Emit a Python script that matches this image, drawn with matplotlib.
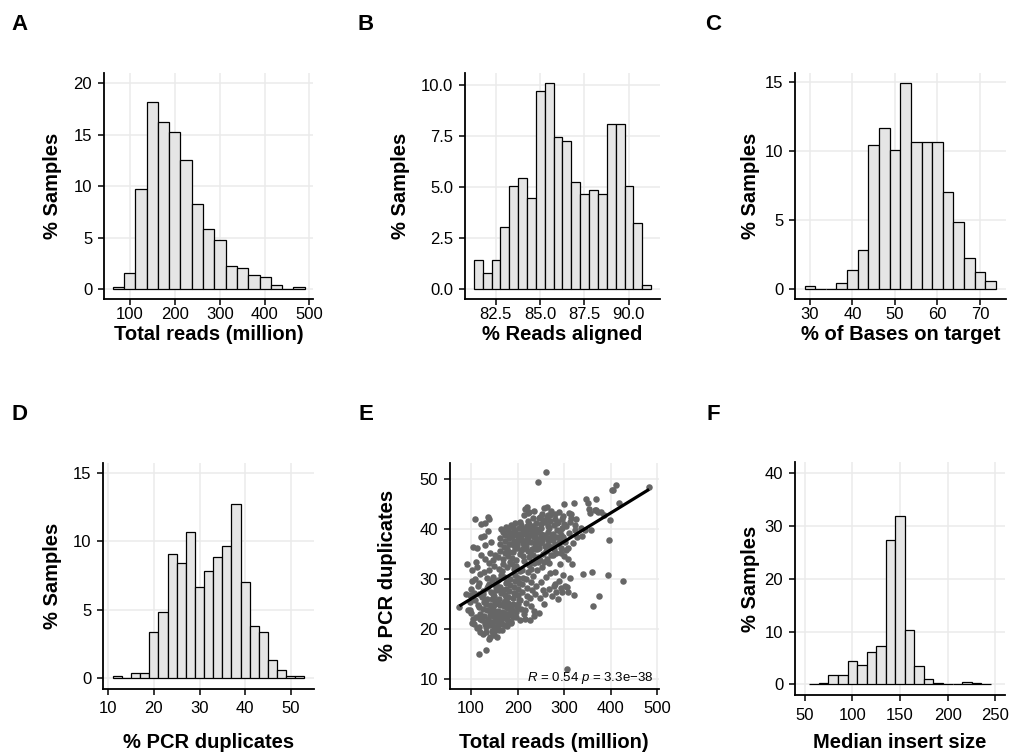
import numpy as np
import matplotlib
matplotlib.use('Agg')
import matplotlib.pyplot as plt

plt.rcParams['font.family'] = ['Liberation Sans', 'DejaVu Sans']
plt.rcParams['mathtext.fontset'] = 'custom'
plt.rcParams['mathtext.it'] = 'Liberation Sans:italic'
plt.rcParams['mathtext.rm'] = 'Liberation Sans'

# ---------------- data ----------------
# A: Total reads (million)
A_bin_start, A_bin_width = 61.3, 25.2
A_heights = [0.2, 1.6, 9.7, 18.15, 16.2, 15.3, 12.5, 8.25, 5.8, 4.8, 2.2, 2.0, 1.4, 1.2, 0.4, 0.0, 0.2]
A_xticks = [100, 200, 300, 400, 500]
A_yticks = [0, 5, 10, 15, 20]

# B: % Reads aligned
B_bin_start, B_bin_width = 81.26, 0.5
B_heights = [1.42, 0.81, 1.42, 3.03, 5.05, 5.44, 4.45, 9.67, 10.07, 7.46, 7.26, 5.24,
             4.64, 4.84, 4.64, 8.06, 8.06, 5.03, 3.22, 0.2]
B_xticks = [82.5, 85.0, 87.5, 90.0]
B_xticklabels = ['82.5', '85.0', '87.5', '90.0']
B_yticks = [0.0, 2.5, 5.0, 7.5, 10.0]
B_yticklabels = ['0.0', '2.5', '5.0', '7.5', '10.0']

# C: % of Bases on target
C_bin_start, C_bin_width = 28.75, 2.5
C_heights = [0.2, 0.0, 0.0, 0.4, 1.4, 2.83, 10.48, 11.69, 10.1, 14.93, 10.7, 10.7, 10.7,
             7.05, 4.83, 2.22, 1.21, 0.6]
C_xticks = [30, 40, 50, 60, 70]
C_yticks = [0, 5, 10, 15]

# D: % PCR duplicates
D_bin_start, D_bin_width = 11.0, 2.0
D_heights = [0.2, 0.0, 0.4, 0.4, 3.42, 4.82, 9.06, 8.46, 10.71, 6.66, 7.85, 8.87, 9.67,
             12.72, 7.05, 3.83, 3.42, 1.38, 0.6, 0.2, 0.2]
D_xticks = [10, 20, 30, 40, 50]
D_yticks = [0, 5, 10, 15]

# F: Median insert size
F_bin_start, F_bin_width = 55.0, 10.0
F_heights = [0.0, 0.2, 1.77, 1.77, 4.42, 3.6, 6.06, 7.26, 27.4, 31.86, 10.28, 3.4, 0.95,
             0.2, 0.0, 0.0, 0.44, 0.2, 0.0]
F_xticks = [50, 100, 150, 200, 250]
F_yticks = [0, 10, 20, 30, 40]

# E: Total reads (million) vs % PCR duplicates
E_reads = [
    97, 99, 101, 103, 104, 102, 100, 98,
    106, 108, 110, 112, 114, 107, 109, 111, 113, 115, 108, 112,
    116, 118, 120, 122, 124, 117, 119, 121, 123, 125, 118, 122, 120,
    126, 128, 130, 132, 134, 127, 129, 131, 133, 135, 126, 130, 134, 128, 132,
    136, 138, 140, 142, 144, 137, 139, 141, 143, 145, 136, 140, 144, 138, 142, 137,
    146, 148, 150, 152, 154, 147, 149, 151, 153, 155, 146, 150, 154, 148, 152, 147, 153,
    156, 158, 160, 162, 164, 157, 159, 161, 163, 165, 156, 160, 164, 158, 162, 157, 163, 159,
    166, 168, 170, 172, 174, 167, 169, 171, 173, 175, 166, 170, 174, 168, 172, 167, 173, 169, 171,
    176, 178, 180, 182, 184, 177, 179, 181, 183, 185, 176, 180, 184, 178, 182, 177, 183, 179, 181, 185,
    186, 188, 190, 192, 194, 187, 189, 191, 193, 195, 186, 190, 194, 188, 192, 187, 193, 189, 191, 195,
    196, 198, 200, 202, 204, 197, 199, 201, 203, 205, 196, 200, 204, 198, 202, 197, 203, 199, 201,
    206, 208, 210, 212, 214, 207, 209, 211, 213, 215, 206, 210, 214, 208, 212, 207, 213, 209, 211,
    216, 218, 220, 222, 224, 217, 219, 221, 223, 225, 216, 220, 224, 218, 222, 217, 223, 219, 221,
    226, 228, 230, 232, 234, 227, 229, 231, 233, 235, 226, 230, 234, 228, 232, 229,
    236, 238, 240, 242, 244, 237, 239, 241, 243, 245, 236, 240, 244, 238, 242,
    246, 248, 250, 252, 254, 247, 249, 251, 253, 255, 246, 250, 254, 248,
    256, 258, 260, 262, 264, 257, 259, 261, 263, 265, 256, 260, 264,
    266, 268, 270, 272, 274, 267, 269, 271, 273, 275, 268, 272,
    276, 278, 280, 282, 284, 277, 279, 281, 283, 285, 280,
    286, 288, 290, 292, 294, 287, 289, 291, 293, 295,
    296, 298, 300, 302, 304, 297, 299, 301, 306,
    306, 308, 310, 312, 314, 307, 309, 313, 318, 320, 322, 325, 316, 328, 320, 324, 311, 315, 304,
    335, 338, 340, 344, 347, 350, 352, 356, 357, 360, 362, 365, 368, 368, 372, 374, 379, 386,
    394, 397, 399, 403, 404, 411, 418, 426, 482,
    75, 94, 97, 88, 92, 141, 150, 101, 139, 221.6, 257, 264,
    205, 210, 215, 220, 225, 230, 235, 240, 245, 250, 255, 260, 265, 270, 275, 280, 285, 290,
    295, 300, 185, 190, 195, 200, 232, 248, 262, 278, 288, 298, 212, 222, 242, 252, 268, 228,
    238, 258, 272, 292,
    120, 125, 130, 135, 140, 145, 150, 155, 160, 165, 170, 175, 180, 185, 190, 195, 200, 133,
    143, 153, 163, 173, 183, 138, 148, 158, 168, 178, 128, 118,
]
E_dups = [
    25.5, 28.0, 31.8, 22.1, 36.5, 29.6, 23.3, 26.8,
    21.0, 42.0, 33.5, 36.2, 24.8, 27.2, 30.1, 22.5, 20.2, 28.6, 25.9, 32.4,
    15.1, 20.5, 23.0, 41.0, 26.4, 29.3, 31.0, 34.8, 21.8, 27.6, 24.5, 38.5, 19.4,
    19.0, 22.6, 41.2, 25.0, 28.3, 31.5, 34.0, 15.9, 20.4, 23.9, 27.0, 36.8, 30.2, 38.6, 21.5,
    42.5, 18.1, 20.9, 23.4, 26.1, 28.7, 31.9, 35.2, 37.5, 19.6, 22.0, 24.8, 29.9, 33.3, 27.5, 39.6,
    19.2, 21.4, 23.6, 25.7, 27.9, 30.4, 32.6, 34.9, 22.0, 20.3, 22.7, 26.6, 29.1, 33.8, 25.0, 24.4, 28.4,
    18.5, 20.8, 22.5, 24.9, 27.3, 29.8, 32.1, 35.6, 38.3, 40.1, 21.6, 26.0, 30.9, 34.4, 37.0, 23.7, 28.5, 19.8,
    19.9, 22.3, 24.6, 26.8, 29.2, 31.7, 34.1, 36.5, 38.8, 40.4, 21.1, 25.5, 28.0, 33.0, 37.6, 23.4, 35.3, 39.5, 30.5,
    20.6, 23.0, 25.3, 27.6, 30.0, 32.4, 34.7, 37.1, 39.3, 40.9, 22.0, 26.4, 28.9, 36.0, 38.2, 24.2, 33.5, 39.9, 35.4, 21.2,
    21.5, 23.8, 26.2, 28.4, 30.8, 33.1, 35.5, 37.7, 39.8, 41.2, 22.9, 25.1, 29.6, 34.2, 36.9, 38.6, 32.0, 40.5, 27.3, 36.3,
    22.4, 24.5, 26.9, 29.2, 31.6, 33.9, 36.2, 38.4, 40.2, 41.5, 23.5, 28.1, 35.0, 37.3, 39.1, 32.7, 25.8, 36.8, 30.3,
    21.8, 24.1, 27.4, 30.2, 33.6, 35.9, 37.9, 39.7, 42.8, 44.0, 25.9, 29.0, 36.6, 38.7, 34.6, 40.8, 23.0, 31.9, 37.2,
    22.1, 25.2, 28.3, 31.4, 34.4, 36.4, 38.1, 39.9, 41.6, 43.5, 23.9, 26.7, 32.8, 37.0, 35.7, 30.0, 38.9, 44.4, 40.6,
    21.9, 24.7, 27.8, 30.6, 33.2, 35.4, 37.4, 39.2, 40.7, 43.7, 26.2, 36.0, 38.5, 29.4, 34.8, 32.1,
    22.6, 36.0, 28.7, 31.8, 34.5, 36.7, 38.3, 40.0, 49.4, 42.3, 23.7, 37.5, 33.4, 27.0, 39.6,
    23.3, 26.3, 29.5, 32.5, 35.1, 37.2, 39.0, 41.0, 43.0, 38.6, 36.3, 38.2, 27.9, 33.9,
    33.5, 27.1, 30.4, 34.0, 36.8, 38.9, 41.4, 51.4, 44.4, 37.9, 25.0, 35.6, 39.5,
    36.6, 28.0, 31.2, 34.9, 37.8, 40.3, 42.9, 36.4, 26.6, 39.1, 33.2, 43.6,
    34.8, 28.6, 31.5, 35.3, 38.4, 40.9, 43.1, 37.0, 27.4, 39.8, 29.0,
    26.0, 29.7, 33.0, 36.2, 38.9, 41.5, 43.4, 37.7, 28.2, 40.2,
    27.4, 30.8, 34.7, 37.5, 40.6, 42.6, 45.0, 28.6, 12.0,
    28.4, 36.3, 39.2, 41.4, 43.1, 27.5, 34.1, 30.3, 37.3, 45.2, 40.8, 42.1, 33.0, 38.4, 26.9, 39.9, 43.2, 42.2, 35.8,
    40.3, 38.6, 31.0, 39.8, 46.0, 45.2, 44.0, 43.2, 39.8, 31.5, 24.7, 43.8, 46.0, 43.8, 43.4, 26.7, 43.5, 42.8,
    30.8, 37.8, 41.8, 47.8, 47.9, 48.9, 45.2, 29.6, 48.4,
    24.4, 23.8, 23.8, 27.0, 33.0, 18.5, 18.8, 21.2, 42.0, 43.2, 44.2, 42.8,
    38.0, 40.3, 39.0, 37.5, 41.0, 38.8, 40.1, 41.3, 39.4, 40.2, 41.8, 38.4, 40.7, 41.6, 38.0, 42.0, 41.2, 39.6,
    42.0, 41.1, 37.0, 38.9, 39.5, 37.8, 42.2, 42.4, 42.4, 36.0, 37.2, 38.5, 36.0, 38.5, 36.0, 37.6, 38.0, 40.0,
    39.0, 36.7, 38.4, 35.2,
    22.0, 24.0, 21.0, 26.0, 22.8, 24.0, 20.5, 23.0, 25.0, 21.8, 23.2, 26.0, 21.7, 24.5, 22.4, 27.0, 25.0, 19.5,
    21.5, 19.8, 22.9, 20.9, 23.2, 29.0, 27.0, 28.0, 27.8, 29.5, 25.5, 27.0,
]
E_xticks = [100, 200, 300, 400, 500]
E_yticks = [10, 20, 30, 40, 50]
E_stat_label = r'$R$ = 0.54 $p$ = 3.3e−38'

# ---------------- layout ----------------
W, H = 1022, 756
fig = plt.figure(figsize=(W / 100, H / 100), dpi=100)

BAR_FILL = '#E5E5E5'
GRID = '#EBEBEB'


def make_ax(l, t, r, b):
    return fig.add_axes([l / W, 1 - b / H, (r - l) / W, (b - t) / H])


def style(ax, box, xlim, ylim, xticks, yticks, xlabel, ylabel, xlab_y, ylab_x,
          xpad, xticklabels=None, yticklabels=None):
    l, t, r, b = box
    ax.set_xlim(*xlim)
    ax.set_ylim(*ylim)
    ax.set_xticks(xticks)
    ax.set_yticks(yticks)
    if xticklabels is not None:
        ax.set_xticklabels(xticklabels)
    if yticklabels is not None:
        ax.set_yticklabels(yticklabels)
    for s in ['top', 'right']:
        ax.spines[s].set_visible(False)
    for s in ['left', 'bottom']:
        ax.spines[s].set_linewidth(1.3)
        ax.spines[s].set_color('black')
    ax.set_axisbelow(True)
    ax.grid(True, color=GRID, linewidth=1.1)
    ax.tick_params(axis='both', direction='out', length=4, width=1.1, color='black',
                   labelsize=12, labelcolor='black')
    ax.tick_params(axis='x', pad=xpad)
    ax.tick_params(axis='y', pad=4.5)
    ax.set_xlabel(xlabel, fontsize=14.5, fontweight='bold')
    ax.set_ylabel(ylabel, fontsize=14.5, fontweight='bold')
    ax.xaxis.label.set_va('center')
    ax.yaxis.label.set_va('center')
    ax.xaxis.set_label_coords(0.5, (b - xlab_y) / (b - t))
    ax.yaxis.set_label_coords((ylab_x - l) / (r - l), 0.5)


def hist(ax, start, width, heights):
    lefts = start + width * np.arange(len(heights))
    ax.bar(lefts, heights, width=width, align='edge', color=BAR_FILL,
           edgecolor='black', linewidth=0.9, zorder=2)


ROW1_XLAB, ROW1_PAD = 334, 1.5
ROW2_XLAB, ROW2_PAD = 742, 5

# A
boxA = (104, 73, 313, 299.3)
axA = make_ax(*boxA)
hist(axA, A_bin_start, A_bin_width, A_heights)
style(axA, boxA, (42, 508), (-1, 21), A_xticks, A_yticks,
      'Total reads (million)', '% Samples', ROW1_XLAB, 52, ROW1_PAD)

# B
boxB = (465, 73, 660, 299.3)
axB = make_ax(*boxB)
hist(axB, B_bin_start, B_bin_width, B_heights)
style(axB, boxB, (80.76, 91.76), (-0.5, 10.57), B_xticks, B_yticks,
      '% Reads aligned', '% Samples', ROW1_XLAB, 400, ROW1_PAD,
      xticklabels=B_xticklabels, yticklabels=B_yticklabels)

# C
boxC = (795, 73, 1005.5, 299.3)
axC = make_ax(*boxC)
hist(axC, C_bin_start, C_bin_width, C_heights)
style(axC, boxC, (26.5, 76.0), (-0.75, 15.68), C_xticks, C_yticks,
      '% of Bases on target', '% Samples', ROW1_XLAB, 750, ROW1_PAD)

# D
boxD = (103.3, 462.7, 314, 688.7)
axD = make_ax(*boxD)
hist(axD, D_bin_start, D_bin_width, D_heights)
style(axD, boxD, (8.9, 55.1), (-0.75, 15.75), D_xticks, D_yticks,
      '% PCR duplicates', '% Samples', ROW2_XLAB, 52, ROW2_PAD)

# E
boxE = (450, 462.7, 658.6, 688.7)
axE = make_ax(*boxE)
xr = np.array(E_reads, dtype=float)
yr = np.array(E_dups, dtype=float)
axE.scatter(xr, yr, s=22, color='#666666', linewidths=0, zorder=2)
coef = np.polyfit(xr, yr, 1)
xs = np.array([xr.min(), xr.max()])
axE.plot(xs, np.polyval(coef, xs), color='black', linewidth=2.3, zorder=3,
         solid_capstyle='butt')
axE.text(492, 10.3, E_stat_label, ha='right', va='center', fontsize=9.5, zorder=4)
style(axE, boxE, (54.7, 502.4), (8.06, 53.3), E_xticks, E_yticks,
      'Total reads (million)', '% PCR duplicates', ROW2_XLAB, 388, ROW2_PAD)

# F
boxF = (795, 462.3, 1005, 695)
axF = make_ax(*boxF)
hist(axF, F_bin_start, F_bin_width, F_heights)
style(axF, boxF, (40, 260), (-2, 42), F_xticks, F_yticks,
      'Median insert size', '% Samples', ROW2_XLAB, 750, ROW2_PAD)

# panel letters
for letter, (px, py) in zip('ABCDEF', [(19.5, 25), (366, 25), (713, 25),
                                        (19.5, 415), (366, 415), (713, 415)]):
    fig.text(px / W, 1 - py / H, letter, ha='center', va='center',
             fontsize=16, fontweight='bold')

fig.savefig('out.png', dpi=100)
